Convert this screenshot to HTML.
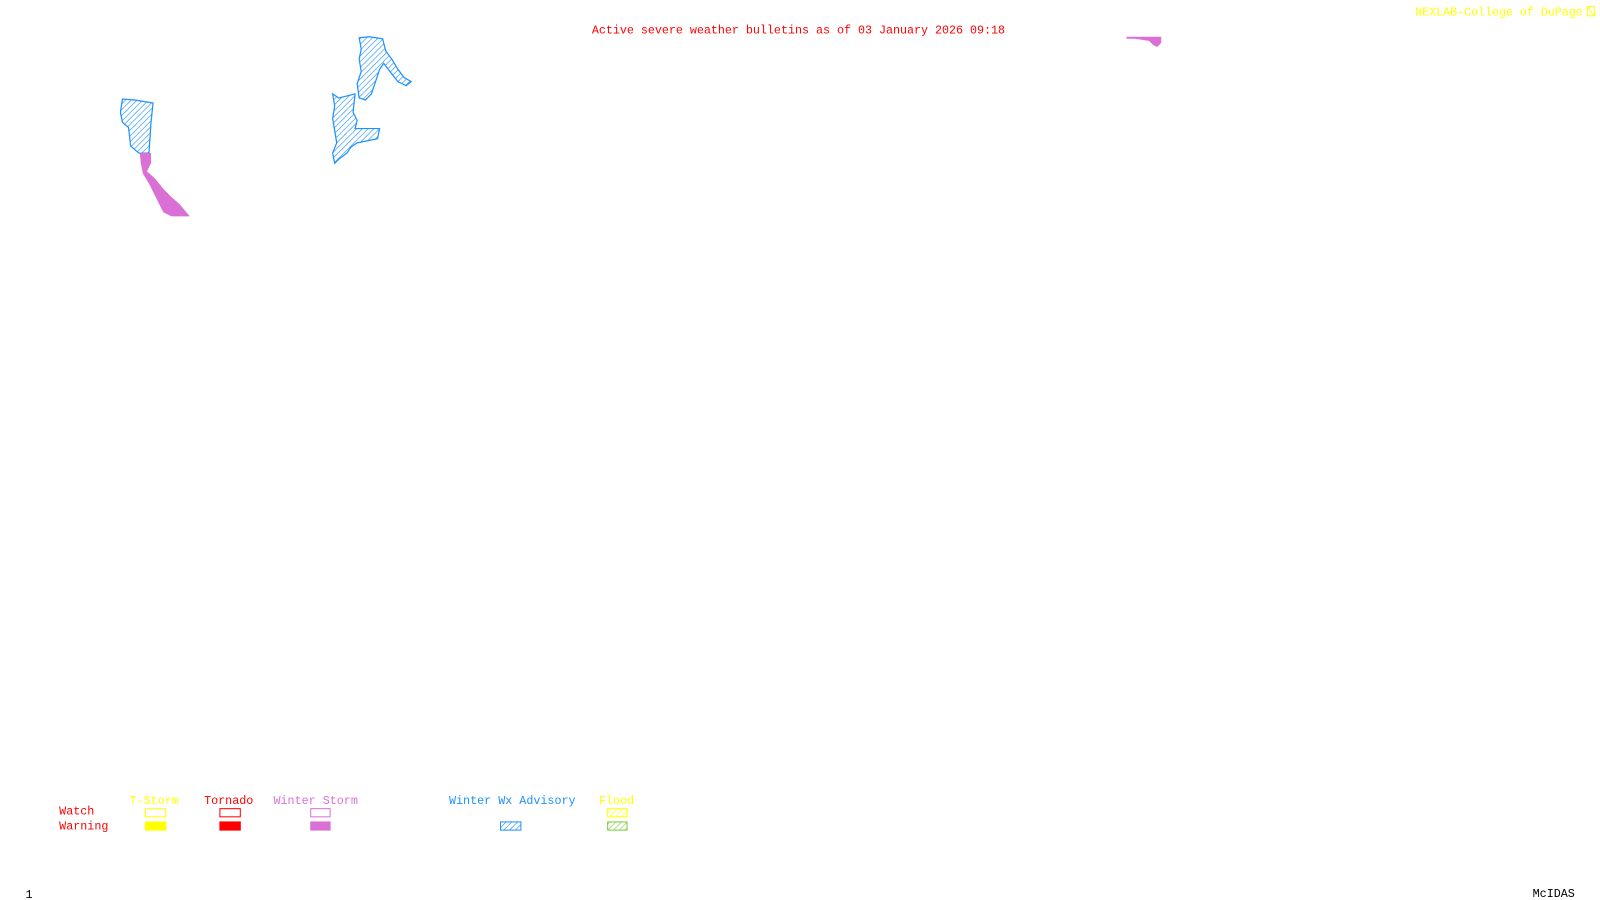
<!DOCTYPE html>
<html><head><meta charset="utf-8"><style>
html,body{margin:0;padding:0;background:#fff;width:1600px;height:900px;overflow:hidden}
svg{display:block}
text{font-family:"Liberation Mono",monospace;font-size:11.5px}
</style></head><body>
<svg width="1600" height="900" viewBox="0 0 1568 882" preserveAspectRatio="none" xmlns="http://www.w3.org/2000/svg">
<defs>
<pattern id="hb" patternUnits="userSpaceOnUse" width="4" height="4" patternTransform="rotate(45)">
<line x1="0" y1="0" x2="0" y2="4" stroke="#1e90ff" stroke-width="1.2"/></pattern>
<pattern id="hy" patternUnits="userSpaceOnUse" width="4" height="4" patternTransform="rotate(45)">
<line x1="0" y1="0" x2="0" y2="4" stroke="#ffff00" stroke-width="1.2"/></pattern>
<pattern id="hg" patternUnits="userSpaceOnUse" width="4" height="4" patternTransform="rotate(45)">
<line x1="0" y1="0" x2="0" y2="4" stroke="#7ccd3c" stroke-width="1.2"/></pattern>
</defs>
<rect width="1568" height="882" fill="#fff"/>
<text x="580" y="33" fill="#ff0000" textLength="405">Active severe weather bulletins as of 03 January 2026 09:18</text>
<text x="1387" y="15" fill="#ffff00" textLength="164" lengthAdjust="spacingAndGlyphs">NEXLAB-College of DuPage</text>
<rect x="1555.5" y="6.5" width="7" height="9" fill="none" stroke="#ffff00"/>
<line x1="1556" y1="7" x2="1562" y2="15" stroke="#ffff00"/>
<!-- shapes -->
<polygon points="120,97 132,98 150,101 148,120 146,150 136,150 128,143 126,125 120,120 118,110" fill="url(#hb)" stroke="#1e90ff" stroke-width="1.2"/>
<polygon points="137,150 148,150 148,160 144,168 152,175 160,185 168,193 176,200 186,212 168,212 160,208 156,200 152,192 146,180 140,170 138,160" fill="#da70d6"/>
<polygon points="352,37 362,36 375,38 378,50 384,58 390,68 396,76 403,80 398,84 390,80 382,70 376,62 372,68 368,80 364,92 358,98 352,96 350,82 354,70 352,58 354,48" fill="url(#hb)" stroke="#1e90ff" stroke-width="1.2"/>
<polygon points="326,92 332,96 340,94 348,92 346,110 350,118 348,126 372,126 370,136 350,140 344,144 340,150 332,156 328,160 326,150 330,140 328,128 326,116 328,104" fill="url(#hb)" stroke="#1e90ff" stroke-width="1.2"/>
<polygon points="1104,36 1138,36 1138,42 1134,46 1130,44 1126,40 1112,38 1104,38" fill="#da70d6"/>
<!-- legend -->
<text x="127" y="788" fill="#ffff00">T-Storm</text>
<text x="200" y="788" fill="#ff0000">Tornado</text>
<text x="268" y="788" fill="#da70d6">Winter Storm</text>
<text x="440" y="788" fill="#1e90ff">Winter Wx Advisory</text>
<text x="587" y="788" fill="#ffff00">Flood</text>
<text x="58" y="798" fill="#ff0000">Watch</text>
<text x="58" y="813" fill="#ff0000">Warning</text>
<rect x="142.5" y="792.5" width="20" height="8" fill="none" stroke="#ffff00"/>
<rect x="215.5" y="792.5" width="20" height="8" fill="none" stroke="#ff0000"/>
<rect x="304.5" y="792.5" width="19" height="8" fill="none" stroke="#da70d6"/>
<rect x="595.5" y="792.5" width="19" height="8" fill="url(#hy)" stroke="#ffff00"/>
<rect x="142" y="805" width="21" height="9" fill="#ffff00"/>
<rect x="215" y="805" width="21" height="9" fill="#ff0000"/>
<rect x="304" y="805" width="20" height="9" fill="#da70d6"/>
<rect x="490.5" y="805.5" width="20" height="8" fill="url(#hb)" stroke="#1e90ff"/>
<rect x="595.5" y="805.5" width="19" height="8" fill="url(#hg)" stroke="#7ccd3c"/>
<text x="25" y="880" fill="#000" font-size="10">1</text>
<text x="1502" y="879" fill="#000">McIDAS</text>
</svg>
</body></html>
